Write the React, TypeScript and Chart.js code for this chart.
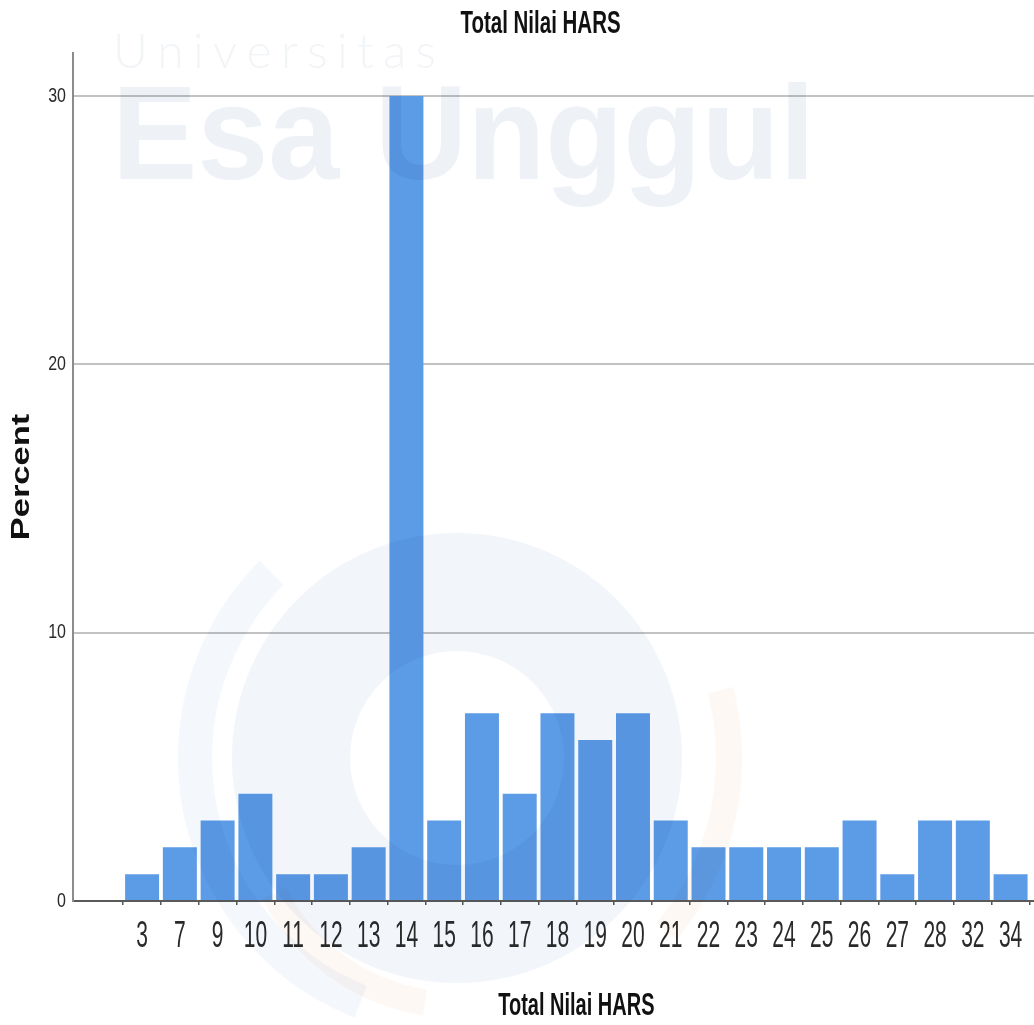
import React, { useEffect, useRef } from 'react';
import { Chart, registerables } from 'chart.js';

Chart.register(...registerables);

// ---- data ----
const categories: string[] = ['3', '7', '9', '10', '11', '12', '13', '14', '15', '16', '17', '18', '19', '20', '21', '22', '23', '24', '25', '26', '27', '28', '32', '34'];
const percents: number[] = [1, 2, 3, 4, 1, 1, 2, 30, 3, 7, 4, 7, 6, 7, 3, 2, 2, 2, 2, 3, 1, 3, 3, 1];
const yTickValues: number[] = [0, 10, 20, 30];
const chartTitle = 'Total Nilai HARS';
const xAxisTitle = 'Total Nilai HARS';
const yAxisTitle = 'Percent';
const watermarkTop = 'Universitas';
const watermarkMain = 'Esa Unggul';

const SANS = '"Liberation Sans", Arial, sans-serif';

// vertical stretch factors (the reference text is drawn tall and narrow)
const X_LABEL_SY = 1.72;
const Y_LABEL_SY = 1.3;
const Y_TITLE_SY = 1.3;
const TITLE_SY = 1.55;
const TITLE_DX = -13;
const X_TITLE_SY = 1.6;

function patchLabels(scale: any, sy: number) {
  if (scale.__stretched) return;
  scale.__stretched = true;
  scale.drawLabels = function (area: any) {
    const ctx = this.ctx;
    const items = this.getLabelItems(area);
    for (const item of items) {
      const o = item.options;
      ctx.save();
      ctx.translate(o.translation[0], o.translation[1]);
      if (o.rotation) ctx.rotate(o.rotation);
      ctx.scale(1, sy);
      ctx.font = item.font.string;
      ctx.fillStyle = o.color;
      ctx.textAlign = o.textAlign;
      ctx.textBaseline = o.textBaseline;
      const lbl = Array.isArray(item.label) ? item.label.join(' ') : item.label;
      ctx.fillText(lbl, 0, item.textOffset);
      ctx.restore();
    }
  };
}

function patchTitle(scale: any, sy: number) {
  if (scale.__titleStretched) return;
  scale.__titleStretched = true;
  const orig = scale.drawTitle.bind(scale);
  scale.drawTitle = function () {
    const ctx = this.ctx;
    const cy = (this.top + this.bottom) / 2;
    ctx.save();
    ctx.translate(0, cy * (1 - sy));
    ctx.scale(1, sy);
    orig();
    ctx.restore();
  };
}

const stretchPlugin = {
  id: 'stretchText',
  afterLayout(chart: any) {
    patchLabels(chart.scales.x, X_LABEL_SY);
    patchLabels(chart.scales.y, Y_LABEL_SY);
    patchTitle(chart.scales.y, Y_TITLE_SY);
    const tb = chart.titleBlock;
    if (tb && !tb.__stretched) {
      tb.__stretched = true;
      const orig = tb.draw.bind(tb);
      tb.draw = function () {
        const ctx = chart.ctx;
        const cy = (this.top + this.bottom) / 2;
        ctx.save();
        ctx.translate(TITLE_DX, cy * (1 - TITLE_SY));
        ctx.scale(1, TITLE_SY);
        orig();
        ctx.restore();
      };
    }
  },
};

const bgPlugin = {
  id: 'whiteBg',
  beforeDraw(chart: any) {
    const { ctx, width, height } = chart;
    ctx.save();
    ctx.fillStyle = '#ffffff';
    ctx.fillRect(0, 0, width, height);
    ctx.restore();
  },
};

const xTitlePlugin = {
  id: 'xTitle',
  afterDraw(chart: any) {
    const { ctx } = chart;
    const xs = chart.scales.x;
    const left = xs.getPixelForValue(-0.5);
    const right = xs.getPixelForValue(categories.length - 0.5);
    ctx.save();
    ctx.translate((left + right) / 2, 1015);
    ctx.scale(1, X_TITLE_SY);
    ctx.fillStyle = '#111111';
    ctx.font = `bold 20px ${SANS}`;
    ctx.textAlign = 'center';
    ctx.textBaseline = 'alphabetic';
    ctx.fillText(xAxisTitle, 0, 0);
    ctx.restore();
  },
};

const watermarkPlugin = {
  id: 'watermark',
  afterDraw(chart: any) {
    const { ctx } = chart;
    ctx.save();
    ctx.globalCompositeOperation = 'multiply';
    // logo ring
    ctx.strokeStyle = 'rgb(242,245,250)';
    ctx.lineWidth = 118;
    ctx.beginPath();
    ctx.arc(457, 758, 166, 0, Math.PI * 2);
    ctx.stroke();
    ctx.strokeStyle = 'rgb(244,247,251)';
    ctx.lineWidth = 34;
    ctx.beginPath();
    ctx.arc(457, 758, 262, Math.PI * 0.62, Math.PI * 1.25);
    ctx.stroke();
    ctx.strokeStyle = 'rgb(254,248,245)';
    ctx.lineWidth = 26;
    ctx.beginPath();
    ctx.arc(457, 800, 205, Math.PI * 0.55, Math.PI * 0.85);
    ctx.stroke();
    ctx.beginPath();
    ctx.arc(457, 758, 272, -Math.PI * 0.08, Math.PI * 0.22);
    ctx.stroke();
    // text
    ctx.fillStyle = 'rgb(238,242,247)';
    ctx.font = `bold 134px ${SANS}`;
    ctx.textBaseline = 'alphabetic';
    ctx.textAlign = 'left';
    const w = ctx.measureText(watermarkMain).width;
    ctx.save();
    ctx.translate(112, 179);
    ctx.scale(703 / w, 1);
    ctx.fillText(watermarkMain, 0, 0);
    ctx.restore();
    ctx.fillStyle = 'rgb(242,245,248)';
    ctx.font = `300 48px Lato, ${SANS}`;
    ctx.save();
    ctx.translate(113, 68);
    const letters = watermarkTop.split('');
    const totalLetters = letters.reduce((s, c) => s + ctx.measureText(c).width, 0);
    const gap = (323 - totalLetters) / (letters.length - 1);
    let x = 0;
    for (const c of letters) {
      ctx.fillText(c, x, 0);
      x += ctx.measureText(c).width + gap;
    }
    ctx.restore();
    ctx.restore();
  },
};

export default function App() {
  const canvasRef = useRef<HTMLCanvasElement>(null);

  useEffect(() => {
    document.body.style.margin = '0';
    document.body.style.overflow = 'hidden';
    const canvas = canvasRef.current;
    if (!canvas) return;
    const chart = new Chart(canvas, {
      type: 'bar',
      data: {
        datasets: [
          {
            label: yAxisTitle,
            data: percents.map((v, i) => ({ x: i, y: v })),
            backgroundColor: '#5c9be6',
            borderWidth: 0,
            categoryPercentage: 1,
            barPercentage: 0.9,
          },
        ],
      },
      options: {
        responsive: false,
        animation: false,
        devicePixelRatio: 1,
        layout: { padding: 0 },
        plugins: {
          legend: { display: false },
          tooltip: { enabled: false },
          title: {
            display: true,
            text: chartTitle,
            fullSize: false,
            color: '#111111',
            font: { family: SANS, size: 20.5, weight: 'bold', lineHeight: 1.45 },
            padding: { top: 10.5, bottom: 12.8 },
          },
        },
        scales: {
          x: {
            type: 'linear',
            offset: false,
            min: -1.83,
            max: 23.62,
            afterBuildTicks: (s: any) => {
              s.ticks = categories.map((_, i) => ({ value: i }));
            },
            afterFit: (s: any) => {
              s.height = 124;
              s.paddingLeft = 0;
              s.paddingRight = 0;
            },
            ticks: {
              autoSkip: false,
              maxRotation: 0,
              minRotation: 0,
              padding: 10,
              color: '#2a2a2a',
              font: { family: SANS, size: 21 },
              callback: (v: any) => categories[Math.round(Number(v))] ?? '',
            },
            grid: {
              display: true,
              drawOnChartArea: false,
              drawTicks: true,
              tickLength: 4,
              offset: true,
              color: '#555555',
              lineWidth: 1.5,
            },
            border: { display: true, color: '#5a5a5a', width: 2 },
          },
          y: {
            type: 'linear',
            min: 0,
            max: 31.6,
            afterBuildTicks: (s: any) => {
              s.ticks = yTickValues.map((v) => ({ value: v }));
            },
            afterFit: (s: any) => {
              s.width = 73;
              s.paddingTop = 0;
              s.paddingBottom = 0;
            },
            ticks: {
              padding: 7,
              color: '#2a2a2a',
              font: { family: SANS, size: 16 },
            },
            grid: {
              drawTicks: false,
              color: (c: any) => (c.tick && c.tick.value === 0 ? 'rgba(0,0,0,0)' : '#c2c2c2'),
              lineWidth: 2,
            },
            border: { display: true, color: '#8c8c8c', width: 2 },
            title: {
              display: true,
              text: yAxisTitle,
              color: '#111111',
              font: { family: SANS, size: 26.5, weight: 'bold', lineHeight: 1.2 },
              padding: { top: 6, bottom: 0 },
            },
          },
        },
      },
      plugins: [bgPlugin, stretchPlugin, xTitlePlugin, watermarkPlugin],
    } as any);
    return () => chart.destroy();
  }, []);

  return (
    <div style={{ width: 1034, height: 1025, background: '#ffffff' }}>
      <canvas ref={canvasRef} width={1034} height={1025} style={{ display: 'block' }} />
    </div>
  );
}
